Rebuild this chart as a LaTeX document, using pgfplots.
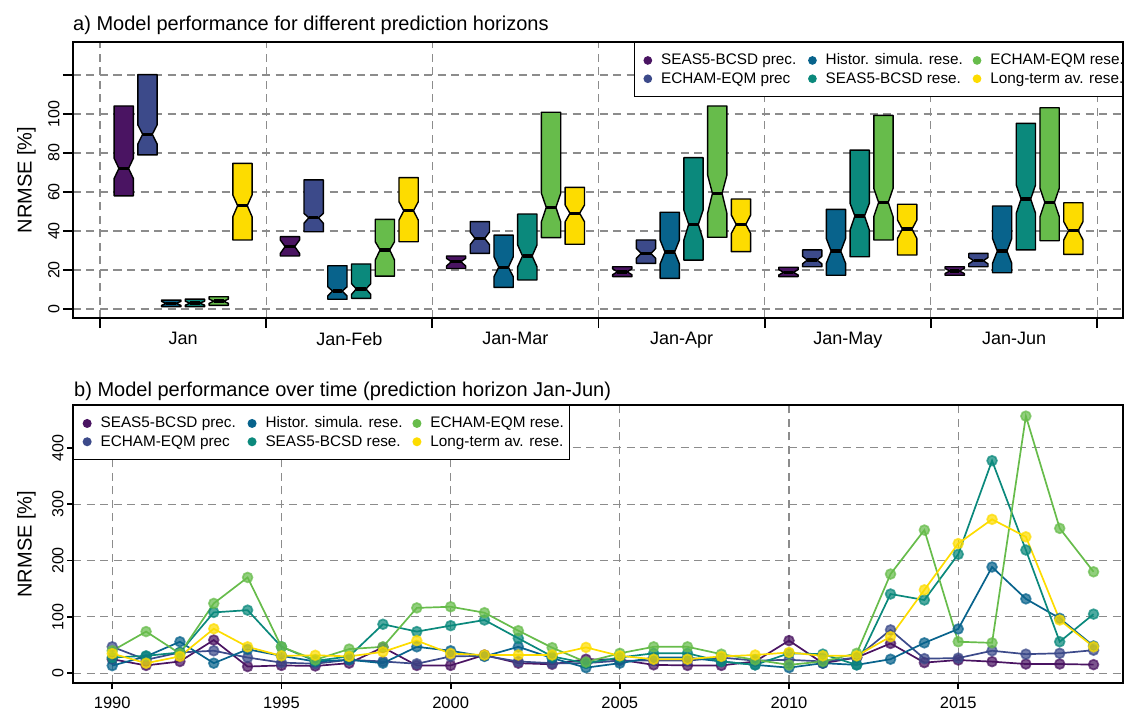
\documentclass[border=0pt]{standalone}
\usepackage{pgfplots}
\pgfplotsset{compat=1.18}
\usepackage{fontspec}
\setmainfont{Liberation Sans}
\definecolor{c1}{HTML}{4A1462}
\definecolor{c2}{HTML}{3C4A8A}
\definecolor{c3}{HTML}{08638C}
\definecolor{c4}{HTML}{0B897C}
\definecolor{c5}{HTML}{67BC4B}
\definecolor{c6}{HTML}{FDDC00}
\definecolor{gridgray}{HTML}{8C8C8C}

% notched box: group, index, q1, notch low, median, notch high, q3, colour
\newcommand{\nbox}[8]{%
  \pgfmathsetmacro\xc{#1+(#2+1)/7}%
  \pgfmathsetmacro\xl{\xc-0.058}%
  \pgfmathsetmacro\xr{\xc+0.058}%
  \pgfmathsetmacro\xil{\xc-0.029}%
  \pgfmathsetmacro\xir{\xc+0.029}%
  \edef\tmpbox{\noexpand\addplot[fill=#8, draw=black, line width=1.4pt, line join=round, forget plot] coordinates {(\xl,#3) (\xr,#3) (\xr,#4) (\xir,#5) (\xr,#6) (\xr,#7) (\xl,#7) (\xl,#6) (\xil,#5) (\xl,#4)} -- cycle;}%
  \tmpbox
  \edef\tmpmed{\noexpand\addplot[black, line width=3.5pt, forget plot] coordinates {(\xil,#5) (\xir,#5)};}%
  \tmpmed
}

\pgfplotsset{
  mystyle/.style={
    scale only axis,
    width=1050pt,
    axis line style={line width=2pt},
    tick style={line width=1.8pt, black},
    tick align=outside,
    tick pos=left,
    grid=major,
    grid style={dash pattern=on 8pt off 5.5pt, gridgray, line width=1.1pt},
    /pgf/number format/assume math mode=true,
    yticklabel style={rotate=90, anchor=south, font=\fontsize{16}{19}\selectfont},
    ylabel={NRMSE [\%]},
    ylabel style={at={(axis description cs:-0.0395,0.5)}, anchor=base, font=\fontsize{20}{24}\selectfont},
    legend columns=3,
    legend cell align=left,
    legend image code/.code={\fill[#1] (0pt,0pt) circle (3.6pt);},
    legend style={draw=black, line width=1.4pt, fill=white,
      font=\fontsize{15.3}{18}\selectfont,
      inner xsep=9pt, inner ysep=9pt, row sep=0.8pt,
      nodes={inner xsep=5pt, inner ysep=1pt, text height=12pt, text depth=3.5pt},
      /tikz/every odd column/.append style={column sep=4pt},
      /tikz/every even column/.append style={column sep=5pt}},
  }
}

\begin{document}
\begin{tikzpicture}
\useasboundingbox (0,0) rectangle (1125pt,-710pt);

% ---------------- panel a ----------------
\begin{axis}[mystyle,
  at={(73pt,-42pt)}, anchor=north west,
  height=276pt,
  xmin=-0.1625, xmax=6.156, ymin=-4.6, ymax=136.9,
  major tick length=10pt,
  xtick={0,1,2,3,4,5,6}, xticklabels={,,,,,,},
  extra x ticks={0.5,1.5,2.5,3.5,4.5,5.5},
  extra x tick labels={Jan,Jan-Feb,Jan-Mar,Jan-Apr,Jan-May,Jan-Jun},
  extra x tick style={major tick length=0pt, grid=none,
     xticklabel style={font=\fontsize{18}{21}\selectfont, yshift=-11pt}},
  ytick={0,20,40,60,80,100,120}, yticklabels={0,20,40,60,80,100,{}},
  legend style={at={(1,1)}, anchor=north east},
]
% Jan
\nbox{0}{0}{58}{66.9}{72.1}{77.3}{104.1}{c1}
\nbox{0}{1}{79}{84.6}{89.6}{94.4}{120.2}{c2}
\nbox{0}{2}{1.2}{1.9}{2.9}{3.9}{4.6}{c3}
\nbox{0}{3}{1.2}{2.0}{3.0}{4.0}{5.1}{c4}
\nbox{0}{4}{1.9}{2.9}{4.0}{5.1}{6.3}{c5}
\nbox{0}{5}{35.4}{47.3}{53}{58.5}{74.7}{c6}
% Jan-Feb
\nbox{1}{0}{27.2}{28.5}{32}{35.4}{37.1}{c1}
\nbox{1}{1}{39.6}{44}{46.8}{49}{66.2}{c2}
\nbox{1}{2}{5}{6.7}{9.2}{11.4}{22.2}{c3}
\nbox{1}{3}{5.5}{7.5}{10.3}{13}{23.1}{c4}
\nbox{1}{4}{16.9}{25.1}{30.3}{34.5}{46}{c5}
\nbox{1}{5}{34.5}{45.6}{50.4}{55}{67.4}{c6}
% Jan-Mar
\nbox{2}{0}{20.8}{22}{24.3}{26}{27.2}{c1}
\nbox{2}{1}{28.5}{33}{36.2}{39.5}{44.8}{c2}
\nbox{2}{2}{11.1}{16.6}{21.4}{26.8}{37.9}{c3}
\nbox{2}{3}{14.9}{21.7}{27.2}{32.8}{48.7}{c4}
\nbox{2}{4}{36.6}{44.8}{52.1}{59.3}{100.9}{c5}
\nbox{2}{5}{33.2}{44.8}{49.1}{53.3}{62.4}{c6}
% Jan-Apr
\nbox{3}{0}{16.6}{17.6}{19.1}{20.6}{21.7}{c1}
\nbox{3}{1}{23.4}{26}{28.5}{31}{35.4}{c2}
\nbox{3}{2}{15.7}{23.1}{29.2}{35.4}{49.6}{c3}
\nbox{3}{3}{25.1}{35.4}{43.4}{50.8}{77.6}{c4}
\nbox{3}{4}{36.8}{49.1}{59.3}{68.7}{104.1}{c5}
\nbox{3}{5}{29.4}{38.8}{43.4}{48.2}{56.4}{c6}
% Jan-May
\nbox{4}{0}{16.6}{17.5}{18.8}{20.2}{21.4}{c1}
\nbox{4}{1}{21.7}{23.2}{25.1}{27}{30.3}{c2}
\nbox{4}{2}{17.3}{23.4}{29.7}{36.2}{51.1}{c3}
\nbox{4}{3}{26.8}{40.5}{47.7}{54.2}{81.5}{c4}
\nbox{4}{4}{35.4}{47.3}{54.7}{61.9}{99.3}{c5}
\nbox{4}{5}{27.7}{36.2}{41}{45.6}{53.7}{c6}
% Jan-Jun
\nbox{5}{0}{17.3}{18.2}{19.5}{20.8}{21.7}{c1}
\nbox{5}{1}{21.7}{23.2}{24.8}{26.4}{28.5}{c2}
\nbox{5}{2}{18.6}{23.4}{29.7}{36.2}{52.8}{c3}
\nbox{5}{3}{30.3}{49.1}{56.4}{63.6}{95.2}{c4}
\nbox{5}{4}{35}{47.3}{54.7}{61.9}{103.2}{c5}
\nbox{5}{5}{28}{35.4}{40.2}{44.8}{54.5}{c6}

\addlegendimage{c1}\addlegendentry{\makebox[137pt][l]{SEAS5-BCSD prec.}}
\addlegendimage{c3}\addlegendentry{\makebox[137pt][l]{Histor. simula. rese.}}
\addlegendimage{c5}\addlegendentry{\makebox[118pt][l]{ECHAM-EQM rese.}}
\addlegendimage{c2}\addlegendentry{\makebox[137pt][l]{ECHAM-EQM prec}}
\addlegendimage{c4}\addlegendentry{\makebox[137pt][l]{SEAS5-BCSD rese.}}
\addlegendimage{c6}\addlegendentry{\makebox[118pt][l]{Long-term av. rese.}}
\end{axis}

% ---------------- panel b ----------------
\begin{axis}[mystyle,
  at={(73pt,-405pt)}, anchor=north west,
  height=278.3pt,
  xmin=1988.84, xmax=2019.87, ymin=-17.7, ymax=475.7,
  major tick length=6pt,
  xtick={1990,1995,2000,2005,2010,2015},
  xticklabel style={/pgf/number format/1000 sep={}, font=\fontsize{16.5}{19}\selectfont, yshift=-4pt},
  ytick={0,100,200,300,400},
  legend style={at={(0,1)}, anchor=north west},
  every axis plot/.append style={line width=1.7pt, mark=*, mark size=4.9pt,
     mark options={solid, fill opacity=0.72, draw opacity=0.72}, forget plot},
]
\addplot[c1] coordinates {(1990,25) (1991,14) (1992,21) (1993,59) (1994,12) (1995,14) (1996,13) (1997,18) (1998,46) (1999,14) (2000,14) (2001,32.5) (2002,18) (2003,16) (2004,25) (2005,24) (2006,15) (2007,14) (2008,14) (2009,21) (2010,58) (2011,18) (2012,28) (2013,53) (2014,19) (2015,23.6) (2016,20.7) (2017,16.5) (2018,16.5) (2019,15.4)};
\addplot[c2] coordinates {(1990,47) (1991,24) (1992,37) (1993,40) (1994,28) (1995,19) (1996,17) (1997,24) (1998,21) (1999,17) (2000,30) (2001,31) (2002,21) (2003,18) (2004,18) (2005,22.5) (2006,22.5) (2007,22.5) (2008,28) (2009,22.5) (2010,24) (2011,21) (2012,28) (2013,77) (2014,26) (2015,27) (2016,40) (2017,34) (2018,35.5) (2019,41)};
\addplot[c3] coordinates {(1990,13.6) (1991,30) (1992,56) (1993,18) (1994,42.5) (1995,31) (1996,21) (1997,24) (1998,18) (1999,47) (2000,40) (2001,30) (2002,47) (2003,27) (2004,10) (2005,18) (2006,28) (2007,28) (2008,21) (2009,15) (2010,10) (2011,18) (2012,15) (2013,25) (2014,54) (2015,78.6) (2016,188.5) (2017,132) (2018,97.5) (2019,48.5)};
\addplot[c4] coordinates {(1990,28) (1991,31) (1992,37) (1993,108) (1994,112) (1995,47) (1996,22) (1997,30) (1998,87) (1999,74) (2000,84.5) (2001,94.5) (2002,62) (2003,30) (2004,18) (2005,28) (2006,35.5) (2007,35.5) (2008,21) (2009,15) (2010,35.5) (2011,34) (2012,15) (2013,140.6) (2014,130) (2015,211) (2016,377) (2017,218.6) (2018,56) (2019,105)};
\addplot[c5] coordinates {(1990,40) (1991,74) (1992,35) (1993,124) (1994,170) (1995,47) (1996,24) (1997,43) (1998,47) (1999,116) (2000,118) (2001,107.5) (2002,75.6) (2003,45.5) (2004,20) (2005,35.5) (2006,47) (2007,47) (2008,34) (2009,24) (2010,15) (2011,21) (2012,35.5) (2013,176) (2014,254) (2015,56) (2016,54) (2017,456) (2018,257) (2019,180)};
\addplot[c6] coordinates {(1990,35) (1991,18) (1992,30) (1993,79) (1994,47) (1995,31) (1996,32) (1997,30) (1998,38) (1999,58) (2000,35) (2001,32.5) (2002,32.5) (2003,32.5) (2004,46) (2005,31) (2006,25) (2007,25) (2008,30) (2009,32.5) (2010,37) (2011,31) (2012,31) (2013,65) (2014,148) (2015,230) (2016,273) (2017,242) (2018,94.5) (2019,47)};

\addlegendimage{c1}\addlegendentry{\makebox[137pt][l]{SEAS5-BCSD prec.}}
\addlegendimage{c3}\addlegendentry{\makebox[137pt][l]{Histor. simula. rese.}}
\addlegendimage{c5}\addlegendentry{\makebox[125pt][l]{ECHAM-EQM rese.}}
\addlegendimage{c2}\addlegendentry{\makebox[137pt][l]{ECHAM-EQM prec}}
\addlegendimage{c4}\addlegendentry{\makebox[137pt][l]{SEAS5-BCSD rese.}}
\addlegendimage{c6}\addlegendentry{\makebox[125pt][l]{Long-term av. rese.}}
\end{axis}

\node[anchor=base west, inner sep=0pt, font=\fontsize{20}{24}\selectfont] at (73pt,-30pt) {a) Model performance for different prediction horizons};
\node[anchor=base west, inner sep=0pt, font=\fontsize{20}{24}\selectfont] at (74pt,-396pt) {b) Model performance over time (prediction horizon Jan-Jun)};
\end{tikzpicture}
\end{document}
